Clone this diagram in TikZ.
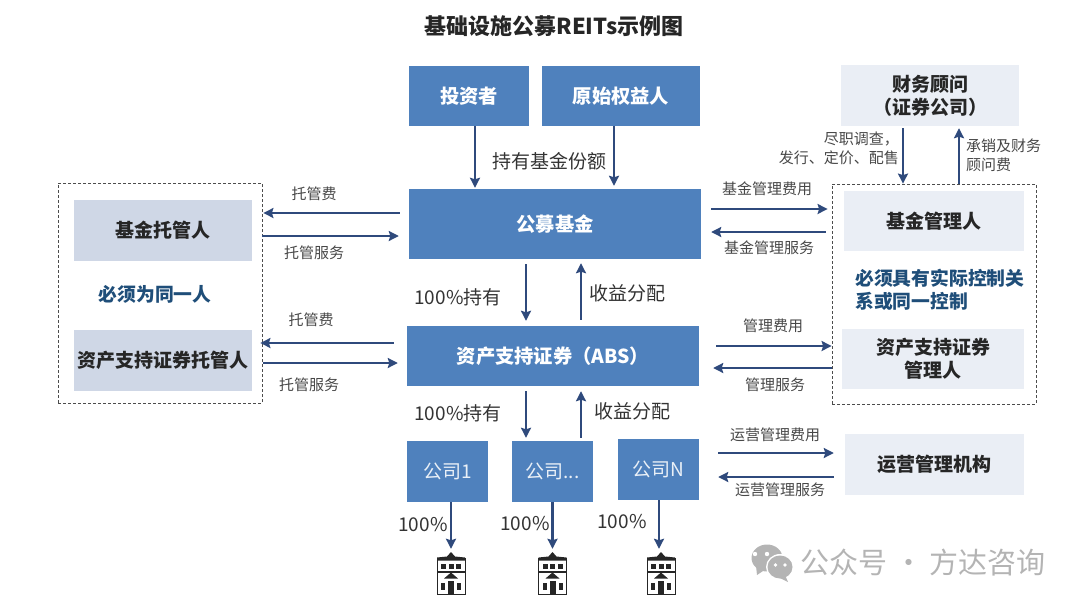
\documentclass[tikz,border=0pt]{standalone}
\usepackage{fontspec}
\setmainfont{Noto Sans CJK SC}
\usetikzlibrary{arrows.meta}

\definecolor{boxblue}{HTML}{4F81BD}
\definecolor{paleblue}{HTML}{EAEEF5}
\definecolor{midblue}{HTML}{CFD7E6}
\definecolor{flowblue}{HTML}{2F4A7C}
\definecolor{noteblue}{HTML}{1F4E79}
\definecolor{markgray}{HTML}{B4B4B4}

\tikzset{
  bluebox/.style={fill=boxblue, text=white, font=\fontsize{19.3}{23}\selectfont\bfseries, inner sep=0pt, align=center},
  firmbox/.style={bluebox, font=\fontsize{19}{23}\selectfont, text=white!88!boxblue, minimum width=81pt, minimum height=61pt},
  palebox/.style={fill=paleblue, text=black!85, font=\fontsize{19}{23}\selectfont\bfseries, inner sep=0pt, align=center},
  midbox/.style={palebox, fill=midblue},
  groupbox/.style={draw=black!70, densely dashed, line width=0.8pt, inner sep=0pt},
  flow/.style={draw=flowblue, line width=2.2pt, -{Stealth[length=10pt,width=10pt,inset=1.5pt]}},
  smalllabel/.style={text=black!72, font=\fontsize{15}{19}\selectfont, inner sep=0pt, align=left},
  biglabel/.style={text=black!80, font=\fontsize{19}{23}\selectfont, inner sep=0pt},
  notelabel/.style={text=noteblue, font=\fontsize{18.8}{23}\selectfont\bfseries, inner sep=0pt, align=left},
  assetspot/.style={minimum width=29pt, minimum height=43pt, inner sep=0pt},
  building/.pic={
    \fill[white] (-14,-21) rectangle (14,21);
    \draw[black!85, line width=1pt] (-14,-15) rectangle (14,21);
    \fill[black!85] (-14,-16) -- (-4,-17) -- (0,-21.5) -- (4,-17) -- (14,-16) -- (14,-13) -- (-14,-13) -- cycle;
    \foreach \i in {-10,-2.5,5} {\fill[black!85] (\i,-10) rectangle ++(5,5);}
    \fill[black!85] (-14,-3) rectangle (14,-1);
    \fill[black!85] (-7,5) -- (0,-1) -- (7,5) -- cycle;
    \fill[black!85] (-3,7) rectangle (3,20);
    \fill[black!85] (-10,9) rectangle (-6,16);
    \fill[black!85] (6,9) rectangle (10,16);
  }
}

\begin{document}
\begin{tikzpicture}[x=1pt, y=-1pt]
  \useasboundingbox (0,0) rectangle (1080,606);

  \node[text=black!85, font=\fontsize{22}{26}\selectfont\bfseries, inner sep=0pt] (title) at (554,26) {基础设施公募REITs示例图};

  \node[groupbox, minimum width=204pt, minimum height=220pt] (custody) at (160,293) {};
  \node[groupbox, minimum width=204pt, minimum height=220pt] (manager) at (934,294) {};

  \node[bluebox, minimum width=120pt, minimum height=60pt] (investor) at (469,96) {投资者};
  \node[bluebox, minimum width=158pt, minimum height=60pt] (owner) at (621,96) {原始权益人};
  \node[bluebox, minimum width=292pt, minimum height=70pt] (fund) at (555,224) {公募基金};
  \node[bluebox, minimum width=292pt, minimum height=60pt] (abs) at (553,356) {资产支持证券（ABS）};
  \node[firmbox] (firmone) at (447.5,471.5) {公司1};
  \node[firmbox] (firmtwo) at (552.5,471.5) {公司...};
  \node[firmbox] (firmn) at (658.5,469.5) {公司N};

  \node[midbox, minimum width=178pt, minimum height=61pt] (fundbank) at (163,230.5) {基金托管人};
  \node[midbox, minimum width=178pt, minimum height=61pt] (absbank) at (163,360.5) {资产支持证券托管人};
  \node[palebox, minimum width=178pt, minimum height=61pt] (adviser) at (930,95.5) {财务顾问\\（证券公司）};
  \node[palebox, minimum width=180pt, minimum height=60pt] (fundmgr) at (934,221) {基金管理人};
  \node[palebox, minimum width=182pt, minimum height=60pt] (absmgr) at (933,359) {资产支持证券\\管理人};
  \node[palebox, minimum width=179pt, minimum height=61pt] (operator) at (934.5,464.5) {运营管理机构};

  \node[assetspot] (assetone) at (451,573.5) {};
  \node[assetspot] (assettwo) at (552.5,573.5) {};
  \node[assetspot] (assetn) at (661,573.5) {};
  \pic at (assetone.center) {building};
  \pic at (assettwo.center) {building};
  \pic at (assetn.center) {building};

  \draw[flow] ([xshift=6pt]investor.south) -- ([shift={(-80,-1)}]fund.north);
  \draw[flow] ([xshift=-7pt]owner.south) -- ([shift={(59,-3)}]fund.north);
  \draw[flow] ([shift={(-29,5)}]fund.south) -- ([shift={(-27,-5)}]abs.north);
  \draw[flow] ([shift={(28,-6)}]abs.north) -- ([shift={(26,4)}]fund.south);
  \draw[flow] ([shift={(-27,5)}]abs.south) -- ([shift={(-26.5,-3)}]firmtwo.north);
  \draw[flow] ([shift={(28.5,-3)}]firmtwo.north) -- ([shift={(28,5)}]abs.south);
  \draw[flow] ([xshift=3.5pt]firmone.south) -- ([shift={(0,-3)}]assetone.north);
  \draw[flow] (firmtwo.south) -- ([shift={(0,-3)}]assettwo.north);
  \draw[flow] ([xshift=0.5pt]firmn.south) -- ([shift={(-2,-3)}]assetn.north);

  \draw[flow] ([shift={(-9,-11)}]fund.west) -- ([shift={(1,-80)}]custody.east);
  \draw[flow] ([shift={(0,-57)}]custody.east) -- ([shift={(-10,12)}]fund.west);
  \draw[flow] ([shift={(-13,-13)}]abs.west) -- ([shift={(-2,50)}]custody.east);
  \draw[flow] ([shift={(1,70)}]custody.east) -- ([shift={(-9,7)}]abs.west);

  \draw[flow] ([shift={(10,-15)}]fund.east) -- ([shift={(-4,-85)}]manager.west);
  \draw[flow] ([shift={(-6,-62)}]manager.west) -- ([shift={(10,8)}]fund.east);
  \draw[flow] ([shift={(17,-10)}]abs.east) -- ([shift={(0,52)}]manager.west);
  \draw[flow] ([shift={(0,74)}]manager.west) -- ([shift={(14,12)}]abs.east);
  \draw[flow] ([shift={(19,-16.5)}]firmn.east) -- ([shift={(-11,-11.5)}]operator.west);
  \draw[flow] ([shift={(-11,12.5)}]operator.west) -- ([shift={(19,7.5)}]firmn.east);

  \draw[flow] ([shift={(-27,2)}]adviser.south) -- ([shift={(-31,0)}]manager.north);
  \draw[flow] ([shift={(25,0)}]manager.north) -- ([shift={(29,2)}]adviser.south);

  \node[biglabel] (holdshare) at (549,161) {持有基金份额};
  \node[biglabel] (holdone) at (458,297) {100\%持有};
  \node[biglabel] (yieldone) at (627,293) {收益分配};
  \node[biglabel] (holdtwo) at (458,413) {100\%持有};
  \node[biglabel] (yieldtwo) at (632,411) {收益分配};
  \node[biglabel] (pctone) at (423,525) {100\%};
  \node[biglabel] (pcttwo) at (525,524) {100\%};
  \node[biglabel] (pctn) at (622,522) {100\%};

  \node[smalllabel] (feeone) at (314,194) {托管费};
  \node[smalllabel] (serviceone) at (314,253) {托管服务};
  \node[smalllabel] (feetwo) at (311,320) {托管费};
  \node[smalllabel] (servicetwo) at (309,385) {托管服务};
  \node[smalllabel] (mgrfee) at (767,189) {基金管理费用};
  \node[smalllabel] (mgrservice) at (769,248) {基金管理服务};
  \node[smalllabel] (absfee) at (773,326) {管理费用};
  \node[smalllabel] (absservice) at (775,385) {管理服务};
  \node[smalllabel] (opfee) at (775,435) {运营管理费用};
  \node[smalllabel] (opservice) at (780,490) {运营管理服务};
  \node[smalllabel, anchor=east, align=right] (duediligence) at (899,148.5) {尽职调查，\\发行、定价、配售};
  \node[smalllabel, anchor=west] (underwrite) at (966,155.5) {承销及财务\\顾问费};

  \node[notelabel] (samenote) at (155,294) {必须为同一人};
  \node[notelabel, anchor=west] (controlnote) at (855,289.5) {必须具有实际控制关\\系或同一控制};

  \fill[markgray] (767,558) ellipse [x radius=15.5, y radius=13.5];
  \fill[markgray] (756,566) -- (757,575) -- (766,569) -- cycle;
  \fill[white] (755,554) circle (2.2) (767,554) circle (2.2);
  \fill[white] (780,567) ellipse [x radius=14, y radius=13];
  \fill[markgray] (780,567) ellipse [x radius=12.5, y radius=11.5];
  \fill[markgray] (785,575) -- (788,582) -- (778,577) -- cycle;
  \fill[white] (775.5,565) circle (1.9) (785,565) circle (1.9);
  \node[text=markgray, font=\fontsize{29}{33}\selectfont, inner sep=0pt] (watermark) at (923,563) {公众号 · 方达咨询};
\end{tikzpicture}
\end{document}
